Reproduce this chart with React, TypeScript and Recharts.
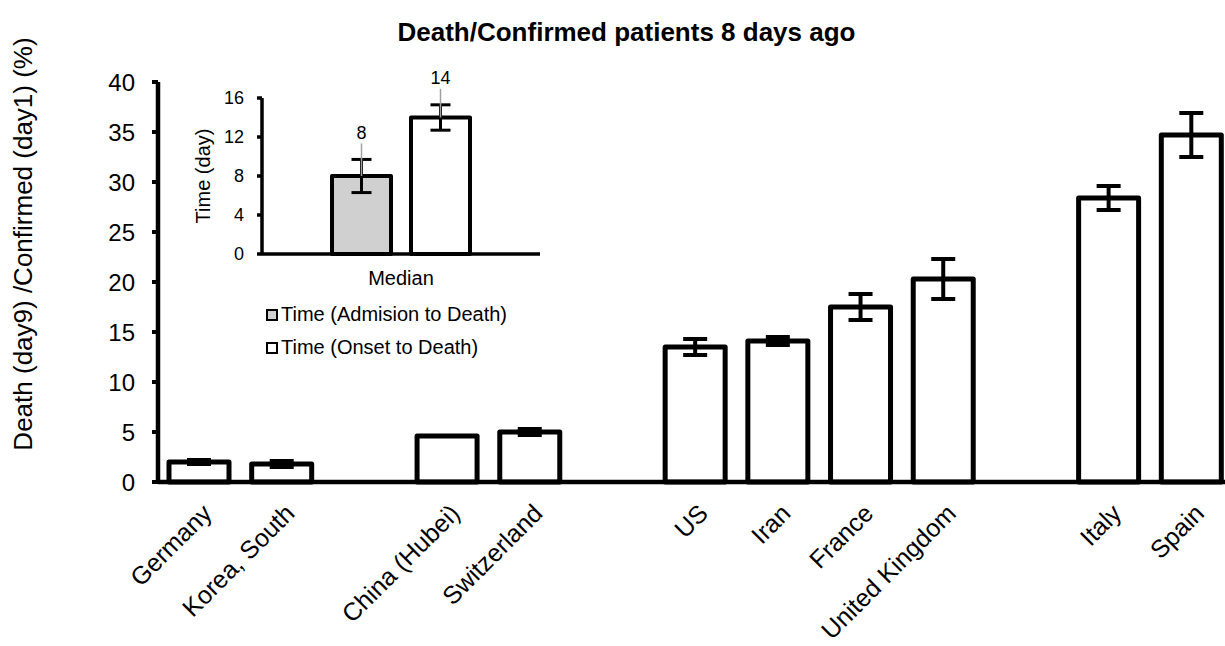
import React from "react";
import { BarChart, Bar, XAxis, YAxis, ErrorBar, LabelList, Legend } from "recharts";

/* ── Main chart data (empty names are the gaps between groups) ── */
const COUNTRIES = [
  "Germany",
  "Korea, South",
  "",
  "China (Hubei)",
  "Switzerland",
  "",
  "US",
  "Iran",
  "France",
  "United Kingdom",
  "",
  "Italy",
  "Spain",
];
const RATIO = [2.0, 1.8, null, 4.6, 5.0, null, 13.5, 14.1, 17.5, 20.3, null, 28.4, 34.7];
const RATIO_ERR = [0.2, 0.3, null, null, 0.3, null, 0.8, 0.4, 1.3, 2.0, null, 1.2, 2.2];
const RATIO_TICKS = [0, 5, 10, 15, 20, 25, 30, 35, 40];

/* ── Inset data ── */
const TIME_GROUPS = ["Median"];
const ADMISSION_DAYS = [8];
const ADMISSION_ERR = [1.7];
const ONSET_DAYS = [14];
const ONSET_ERR = [1.3];
const TIME_TICKS = [0, 4, 8, 12, 16];
const LEGEND_ITEMS = [
  { name: "Time (Admision to Death)", fill: "#d0d0d0" },
  { name: "Time (Onset to Death)", fill: "#ffffff" },
];

const FONT = '"Liberation Sans", Arial, sans-serif';

const mainData = COUNTRIES.map((country, i) => ({
  country,
  ratio: RATIO[i],
  err: RATIO_ERR[i],
}));

const insetData = TIME_GROUPS.map((group, i) => ({
  group,
  admission: ADMISSION_DAYS[i],
  admissionErr: ADMISSION_ERR[i],
  onset: ONSET_DAYS[i],
  onsetErr: ONSET_ERR[i],
}));

function CountryTick(props: any) {
  const { x, y, payload } = props;
  if (!payload.value) return null;
  const tx = x + 14;
  const ty = y + 33;
  return (
    <text
      x={tx}
      y={ty}
      transform={`rotate(-45, ${tx}, ${ty})`}
      textAnchor="end"
      fontSize={25}
      fontFamily={FONT}
      fill="#000"
    >
      {payload.value}
    </text>
  );
}

// value label sitting above the error bar, with a thin grey leader line
function makeValueLabel(errs: number[]) {
  return (props: any) => {
    const { x, y, width, height, value, index } = props;
    const cx = x + width / 2;
    const pxPerUnit = height / value;
    const errTop = y - errs[index] * pxPerUnit;
    const ly = errTop - 27;
    return (
      <g>
        <line x1={cx} y1={ly + 11} x2={cx} y2={y} stroke="#a0a0a0" strokeWidth={1.5} />
        <text x={cx} y={ly} dy="0.35em" textAnchor="middle" fontSize={18} fontFamily={FONT} fill="#000">
          {value}
        </text>
      </g>
    );
  };
}

function InsetLegend() {
  return (
    <div style={{ fontFamily: FONT, fontSize: 20, color: "#000", whiteSpace: "nowrap" }}>
      {LEGEND_ITEMS.map((item) => (
        <div key={item.name} style={{ display: "flex", alignItems: "center", height: 33 }}>
          <span
            style={{
              display: "inline-block",
              width: 8,
              height: 8,
              border: "2.5px solid #000",
              background: item.fill,
              marginRight: 3,
            }}
          />
          <span>{item.name}</span>
        </div>
      ))}
    </div>
  );
}

export default function App() {
  return (
    <div
      style={{
        position: "absolute",
        left: 0,
        top: 0,
        width: 1225,
        height: 646,
        overflow: "hidden",
        background: "#fff",
        fontFamily: FONT,
      }}
    >
      <div
        style={{
          position: "absolute",
          left: 0,
          top: 17,
          width: 1253,
          textAlign: "center",
          fontSize: 26,
          fontWeight: "bold",
          color: "#000",
        }}
      >
        Death/Confirmed patients 8 days ago
      </div>

      <BarChart
        width={1233}
        height={646}
        data={mainData}
        margin={{ top: 82, right: 0, bottom: 0, left: 0 }}
        barSize={60}
      >
        <XAxis
          dataKey="country"
          height={164}
          interval={0}
          tickLine={false}
          tickSize={0}
          tickMargin={0}
          axisLine={{ stroke: "#000", strokeWidth: 4.5 }}
          tick={<CountryTick />}
        />
        <YAxis
          width={158}
          domain={[0, 40]}
          ticks={RATIO_TICKS}
          tickSize={6}
          tickMargin={17}
          axisLine={{ stroke: "#000", strokeWidth: 4.5 }}
          tickLine={{ stroke: "#000", strokeWidth: 4 }}
          tick={{ fontSize: 24, fill: "#000", fontFamily: FONT }}
          label={{
            content: (p: any) => {
              const vb = p.viewBox;
              const lx = vb.x + 23;
              const ly = vb.y + vb.height / 2 - 38;
              return (
                <text
                  x={lx}
                  y={ly}
                  transform={`rotate(-90, ${lx}, ${ly})`}
                  textAnchor="middle"
                  dominantBaseline="central"
                  fontSize={26}
                  fontFamily={FONT}
                  fill="#000"
                >
                  Death (day9) /Confirmed (day1) (%)
                </text>
              );
            },
          }}
        />
        <Bar
          dataKey="ratio"
          fill="#fff"
          stroke="#000"
          strokeWidth={5}
          strokeLinejoin="round"
          isAnimationActive={false}
        >
          <ErrorBar dataKey="err" width={12} strokeWidth={4} stroke="#000" />
        </Bar>
      </BarChart>

      {/* inset: time from admission / onset to death */}
      <div style={{ position: "absolute", left: 180, top: 50 }}>
        <BarChart
          width={380}
          height={330}
          data={insetData}
          margin={{ top: 48, right: 20, bottom: 0, left: 0 }}
          barSize={59}
          barGap={20}
        >
          <XAxis
            dataKey="group"
            height={126}
            tickLine={false}
            tickSize={0}
            tickMargin={17}
            axisLine={{ stroke: "#000", strokeWidth: 3.5 }}
            tick={{ fontSize: 20, fill: "#000", fontFamily: FONT }}
          />
          <YAxis
            width={82}
            domain={[0, 16]}
            ticks={TIME_TICKS}
            tickSize={5}
            tickMargin={13}
            axisLine={{ stroke: "#000", strokeWidth: 3.5 }}
            tickLine={{ stroke: "#000", strokeWidth: 3.5 }}
            tick={{ fontSize: 18, fill: "#000", fontFamily: FONT }}
            label={{
              content: (p: any) => {
                const vb = p.viewBox;
                const lx = vb.x + 23;
                const ly = vb.y + vb.height / 2;
                return (
                  <text
                    x={lx}
                    y={ly}
                    transform={`rotate(-90, ${lx}, ${ly})`}
                    textAnchor="middle"
                    dominantBaseline="central"
                    fontSize={20}
                    fontFamily={FONT}
                    fill="#000"
                  >
                    Time (day)
                  </text>
                );
              },
            }}
          />
          <Legend
            layout="vertical"
            align="center"
            verticalAlign="middle"
            wrapperStyle={{ left: 86, top: 248, width: 300 }}
            content={<InsetLegend />}
          />
          <Bar
            dataKey="admission"
            name="Time (Admision to Death)"
            fill="#d0d0d0"
            stroke="#000"
            strokeWidth={4}
            strokeLinejoin="round"
            isAnimationActive={false}
          >
            <ErrorBar dataKey="admissionErr" width={10} strokeWidth={3} stroke="#000" />
            <LabelList dataKey="admission" content={makeValueLabel(ADMISSION_ERR)} />
          </Bar>
          <Bar
            dataKey="onset"
            name="Time (Onset to Death)"
            fill="#fff"
            stroke="#000"
            strokeWidth={4}
            strokeLinejoin="round"
            isAnimationActive={false}
          >
            <ErrorBar dataKey="onsetErr" width={10} strokeWidth={3} stroke="#000" />
            <LabelList dataKey="onset" content={makeValueLabel(ONSET_ERR)} />
          </Bar>
        </BarChart>
      </div>
    </div>
  );
}
